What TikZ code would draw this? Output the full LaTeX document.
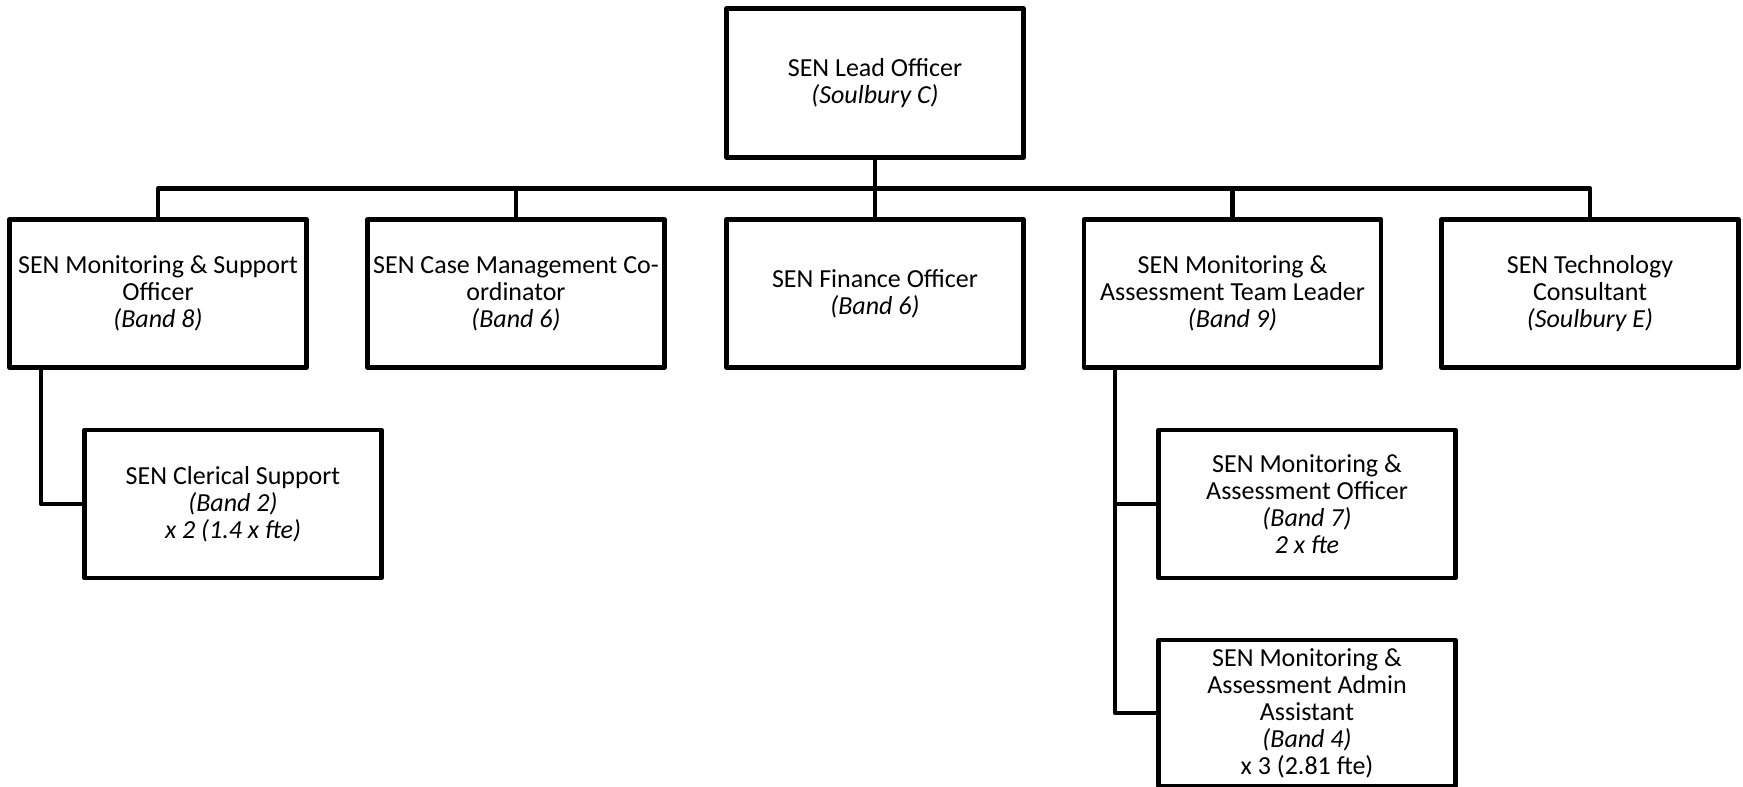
\documentclass[tikz,border=0pt]{standalone}
\usepackage{fontspec}
\setmainfont{Carlito}
\begin{document}
\begin{tikzpicture}[x=1pt,y=-1pt,
  box/.style={draw=black, line width=4.6pt, line join=round, fill=white,
    minimum width=297pt, minimum height=148pt, inner sep=0pt, align=center,
    font=\fontsize{26}{27}\selectfont},
  conn/.style={draw=black, line width=4.5pt, line join=round}]
\useasboundingbox (0,0) rectangle (1743,787);
\coordinate (bus) at (0,188.5);
\coordinate (lv) at (41,0);
\coordinate (rv) at (1115,0);

\node[box, minimum height=149pt] (lead) at (875,83) {SEN Lead Officer\\\textit{(Soulbury C)}};

\node[box] (b1) at (158,293.5) {SEN Monitoring \& Support\\Officer\\\textit{(Band 8)}};
\node[box] (b2) at (516,293.5) {SEN Case Management Co-\\ordinator\\\textit{(Band 6)}};
\node[box] (b3) at (875,293.5) {SEN Finance Officer\\\textit{(Band 6)}};
\node[box] (b4) at (1232.5,293.5) {SEN Monitoring \&\\Assessment Team Leader\\\textit{(Band 9)}};
\node[box] (b5) at (1590,293.5) {SEN Technology\\Consultant\\\textit{(Soulbury E)}};

\node[box] (cler) at (233,504) {SEN Clerical Support\\\textit{(Band 2)}\\\textit{x 2 (1.4 x fte)}};
\node[box] (off) at (1307,504) {SEN Monitoring \&\\Assessment Officer\\\textit{(Band 7)}\\\textit{2 x fte}};
\node[box, minimum height=146pt] (adm) at (1307,713) {SEN Monitoring \&\\Assessment Admin\\Assistant\\\textit{(Band 4)}\\x 3 (2.81 fte)};

\draw[conn] (lead.south) -- (b3.north);
\draw[conn] (b1.north) -- (b1.north |- bus) -- (b5.north |- bus) -- (b5.north);
\draw[conn] (b2.north) -- (b2.north |- bus);
\draw[conn] (b4.north) -- (b4.north |- bus);
\draw[conn] (b1.south -| lv) |- (cler.west);
\draw[conn] (b4.south -| rv) |- (adm.west);
\draw[conn] (off.west) -- (off.west -| rv);
\end{tikzpicture}
\end{document}
